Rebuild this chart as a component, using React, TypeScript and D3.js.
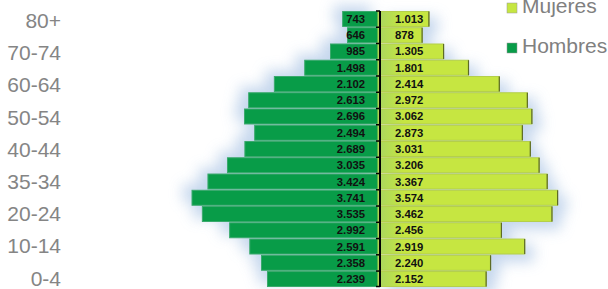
import React from 'react'
import * as d3 from 'd3'

// age groups, top of the pyramid first
const ageGroups = ['80+', '75-79', '70-74', '65-69', '60-64', '55-59', '50-54', '45-49', '40-44', '35-39', '30-34', '25-29', '20-24', '15-19', '10-14', '5-9', '0-4']
const hombres = [743, 646, 985, 1498, 2102, 2613, 2696, 2494, 2689, 3035, 3424, 3741, 3535, 2992, 2591, 2358, 2239]
const mujeres = [1013, 878, 1305, 1801, 2414, 2972, 3062, 2873, 3031, 3206, 3367, 3574, 3462, 2456, 2919, 2240, 2152]
// tick labels as printed on the chart (every other group)
const tickLabels: [string, string][] = [
    ['80+', '80+'], ['70-74', '70-74'], ['60-64', '60-64'], ['50-54', '50-54'], ['40-44', '40-44'],
    ['30-34', '35-34'], ['20-24', '20-24'], ['10-14', '10-14'], ['0-4', '0-4']
]
const legendItems = [
    { name: 'Mujeres', color: '#c6e641' },
    { name: 'Hombres', color: '#089c48' }
]

const fmt = (v: number) => d3.format(',')(v).replace(/,/g, '.')

export default function App() {
    const width = 608
    const height = 289
    const axisX = 380

    // row scale
    const y = d3.scaleBand<string>()
        .domain(ageGroups)
        .range([11, 287])
        .paddingInner(0.08)
        .paddingOuter(0.03)

    // baselines of the category labels
    const yLabel = d3.scalePoint<string>().domain(ageGroups).range([27.8, 285.7])

    // bar length scale (same for both sides)
    const x = d3.scaleLinear().domain([0, 4000]).range([0, 201])
    const womenZero = axisX - 2

    const rows = ageGroups.map((g, i) => ({ g, h: hombres[i], m: mujeres[i] }))

    return (
        <svg width={width} height={height} style={{ position: 'absolute', left: 0, top: 0, background: '#fff' }}
            fontFamily="'Liberation Sans', Arial, sans-serif">
            <defs>
                <filter id="glow" x="-50%" y="-50%" width="200%" height="200%">
                    <feGaussianBlur stdDeviation="7" />
                </filter>
                <linearGradient id="womenGrad" gradientUnits="userSpaceOnUse" x1={womenZero} x2={womenZero + 26} y1="0" y2="0">
                    <stop offset="0" stopColor="#a9d660" />
                    <stop offset="1" stopColor="#c6e641" />
                </linearGradient>
            </defs>

            {/* soft blue shadow */}
            <g filter="url(#glow)" fill="#bcd0ea" opacity={0.85}>
                {rows.map(d => (
                    <rect key={'sh' + d.g} x={axisX - x(d.h) - 9} y={(y(d.g) as number) - 6}
                        width={x(d.h)} height={y.bandwidth() + 3} />
                ))}
                {rows.map(d => (
                    <rect key={'sm' + d.g} x={womenZero + 9} y={(y(d.g) as number) + 5}
                        width={x(d.m)} height={y.bandwidth() + 3} />
                ))}
            </g>

            {/* hombres */}
            {rows.map(d => (
                <rect key={'h' + d.g} x={axisX - x(d.h)} y={y(d.g)} width={x(d.h)} height={y.bandwidth()}
                    fill="#089c48" stroke="#3aa96c" strokeWidth={1} />
            ))}
            {/* mujeres */}
            {rows.map(d => (
                <g key={'m' + d.g}>
                    <rect x={womenZero} y={y(d.g)} width={x(d.m)} height={y.bandwidth()}
                        fill="url(#womenGrad)" stroke="#b4cf4a" strokeWidth={1} />
                    <line x1={womenZero + x(d.m)} x2={womenZero + x(d.m)} y1={y(d.g)} y2={(y(d.g) as number) + y.bandwidth()}
                        stroke="#5d6b25" strokeWidth={1.2} />
                </g>
            ))}

            {/* central axis */}
            <line x1={axisX} x2={axisX} y1={11} y2={287} stroke="#000" strokeWidth={2} />
            {ageGroups.map(g => (
                <line key={'t' + g} x1={axisX - 4} x2={axisX} y1={y(g)! - 0.5} y2={y(g)! - 0.5} stroke="#000" strokeWidth={1.5} />
            ))}
            <line x1={axisX - 4} x2={axisX} y1={286.5} y2={286.5} stroke="#000" strokeWidth={1.5} />

            {/* value labels */}
            {rows.map(d => (
                <text key={'lh' + d.g} x={axisX - 15} y={y(d.g)! + y.bandwidth() / 2 + 4}
                    textAnchor="end" fontSize={11.3} fontWeight="bold" fill="#111">{fmt(d.h)}</text>
            ))}
            {rows.map(d => (
                <text key={'lm' + d.g} x={axisX + 15} y={y(d.g)! + y.bandwidth() / 2 + 4}
                    textAnchor="start" fontSize={11.3} fontWeight="bold" fill="#111">{fmt(d.m)}</text>
            ))}

            {/* category labels */}
            {tickLabels.map(([g, label]) => (
                <text key={'c' + g} x={61} y={yLabel(g)} textAnchor="end"
                    fontSize={21} fill="#858585">{label}</text>
            ))}

            {/* legend */}
            {legendItems.map((item, i) => (
                <g key={item.name} transform={`translate(507, ${3 + i * 40})`}>
                    <rect width={10} height={10} fill={item.color} stroke="#999" strokeWidth={0.5} />
                    <text x={15} y={10} fontSize={21} fill="#808080">{item.name}</text>
                </g>
            ))}
        </svg>
    )
}
